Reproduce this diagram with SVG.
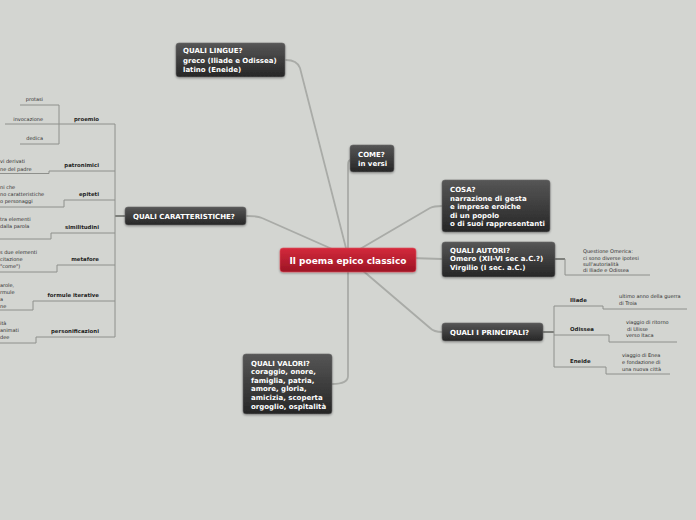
<svg xmlns="http://www.w3.org/2000/svg" width="696" height="520" viewBox="0 0 696 520">
<defs>
<linearGradient id="gDark" x1="0" y1="0" x2="0" y2="1">
<stop offset="0" stop-color="#565656"/>
<stop offset="1" stop-color="#262626"/>
</linearGradient>
<linearGradient id="gRed" x1="0" y1="0" x2="0" y2="1">
<stop offset="0" stop-color="#d42a3c"/>
<stop offset="1" stop-color="#9c1424"/>
</linearGradient>
<filter id="sh" x="-20%" y="-20%" width="140%" height="160%">
<feDropShadow dx="0" dy="1" stdDeviation="1" flood-color="#000" flood-opacity="0.35"/>
</filter>
</defs>
<style>
.bg{fill:#d3d5d1}
.nd{fill:url(#gDark);stroke:#6a6a6a;stroke-width:0.6;filter:url(#sh)}
.ct{fill:url(#gRed);stroke:#e05060;stroke-width:0.6;filter:url(#sh)}
.nt{font-family:"DejaVu Sans",Verdana,sans-serif;font-weight:bold;font-size:7px;fill:#ffffff}
.ctt{font-family:"DejaVu Sans",Verdana,sans-serif;font-weight:bold;font-size:9px;fill:#ffffff}
.main{fill:none;stroke:#a9aba7;stroke-width:1.8;stroke-linecap:round}
.sub{fill:none;stroke:#8e908c;stroke-width:1}
.subd{fill:none;stroke:#5a5c58;stroke-width:1.4}
.lb{font-family:"DejaVu Sans",Verdana,sans-serif;font-weight:bold;font-size:5.4px;fill:#1e1e1e}
.lf{font-family:"DejaVu Sans",Verdana,sans-serif;font-size:5px;fill:#2e2e2e}
</style>
<rect class="bg" x="0" y="0" width="696" height="520"/>

<g id="connectors">
<path class="main" d="M348,256 L300,68 Q297,60 286,60"/>
<path class="main" d="M348,256 L348,165 Q348,160 351,160"/>
<path class="main" d="M348,256 L430,208 Q434,206 442,206"/>
<path class="main" d="M348,256 L442,259"/>
<path class="main" d="M348,258 L430,328 Q434,332 442,332"/>
<path class="main" d="M348,258 L348,376 Q348,384 332,384"/>
<path class="main" d="M348,256 L262,218 Q258,216 247,216"/>
<!-- left subtree -->
<path class="subd" d="M125,216 L115,216"/>
<path class="sub" d="M115,124 L115,337"/>
<path class="sub" d="M115,124 L59,124"/>
<path class="sub" d="M59,105 L59,144"/>
<path class="sub" d="M59,105 L20,105"/>
<path class="sub" d="M59,124 L5,124"/>
<path class="sub" d="M59,144 L20,144"/>
<path class="sub" d="M115,171 L49,171 L49,173.5 L0,173.5"/>
<path class="sub" d="M115,200 L64,200 L64,207 L0,207"/>
<path class="sub" d="M115,233 L51,233 L51,239 L0,239"/>
<path class="sub" d="M115,265 L57,265 L57,272 L0,272"/>
<path class="sub" d="M115,301 L33,301 L33,310 L0,310"/>
<path class="sub" d="M115,337 L36,337 L36,343 L0,343"/>
<!-- right subtrees -->
<path class="subd" d="M555,259 L565,259"/>
<path class="sub" d="M565,259 L565,275 L650,275"/>
<path class="subd" d="M543,332 L554,332"/>
<path class="sub" d="M554,306 L554,367"/>
<path class="sub" d="M554,306 L603,306 L603,309 L687,309"/>
<path class="sub" d="M554,335 L609,335 L609,342 L677,342"/>
<path class="sub" d="M554,367 L606,367 L606,374 L670,374"/>
</g>

<g id="center">
<rect class="ct" x="280" y="248" width="136" height="24" rx="3"/>
<text class="ctt" x="348" y="264" text-anchor="middle">Il poema epico classico</text>
</g>

<g id="lingue">
<rect class="nd" x="176" y="43" width="109" height="34" rx="3"/>
<text class="nt" x="183" y="53">QUALI LINGUE?</text>
<text class="nt" x="183" y="62.5">greco (Iliade e Odissea)</text>
<text class="nt" x="183" y="72">latino (Eneide)</text>
</g>

<g id="come">
<rect class="nd" x="350" y="145" width="44" height="27" rx="3"/>
<text class="nt" x="358" y="156.5">COME?</text>
<text class="nt" x="358" y="165.5">in versi</text>
</g>

<g id="cosa">
<rect class="nd" x="442" y="180" width="108" height="52" rx="3"/>
<text class="nt" x="450" y="192">COSA?</text>
<text class="nt" x="450" y="200.5">narrazione di gesta</text>
<text class="nt" x="450" y="209">e imprese eroiche</text>
<text class="nt" x="450" y="217.5">di un popolo</text>
<text class="nt" x="450" y="226">o di suoi rappresentanti</text>
</g>

<g id="autori">
<rect class="nd" x="442" y="242" width="113" height="35" rx="3"/>
<text class="nt" x="450" y="252.5">QUALI AUTORI?</text>
<text class="nt" x="450" y="261">Omero (XII-VI sec a.C.?)</text>
<text class="nt" x="450" y="269.5">Virgilio (I sec. a.C.)</text>
</g>

<g id="principali">
<rect class="nd" x="442" y="323" width="101" height="18" rx="3"/>
<text class="nt" x="450" y="334.5">QUALI I PRINCIPALI?</text>
</g>

<g id="valori">
<rect class="nd" x="243" y="354" width="89" height="60" rx="3"/>
<text class="nt" x="251" y="365.5">QUALI VALORI?</text>
<text class="nt" x="251" y="374">coraggio, onore,</text>
<text class="nt" x="251" y="382.5">famiglia, patria,</text>
<text class="nt" x="251" y="391">amore, gloria,</text>
<text class="nt" x="251" y="399.5">amicizia, scoperta</text>
<text class="nt" x="251" y="408.5">orgoglio, ospitalità</text>
</g>

<g id="caratteristiche">
<rect class="nd" x="125" y="207" width="121" height="18" rx="3"/>
<text class="nt" x="133" y="218.5">QUALI CARATTERISTICHE?</text>
</g>

<g id="proemio">
<text class="lb" x="99" y="121" text-anchor="end">proemio</text>
<text class="lf" x="43" y="101" text-anchor="end">protasi</text>
<text class="lf" x="43" y="121" text-anchor="end">invocazione</text>
<text class="lf" x="43" y="140" text-anchor="end">dedica</text>
</g>
<g id="patronimici">
<text class="lb" x="99" y="167" text-anchor="end">patronimici</text>
<text class="lf" x="0" y="163">vi derivati</text>
<text class="lf" x="0" y="171">ne del padre</text>
</g>
<g id="epiteti">
<text class="lb" x="99" y="196" text-anchor="end">epiteti</text>
<text class="lf" x="0" y="189">ni che</text>
<text class="lf" x="0" y="196">no caratteristiche</text>
<text class="lf" x="0" y="203">o personaggi</text>
</g>
<g id="similitudini">
<text class="lb" x="99" y="229" text-anchor="end">similitudini</text>
<text class="lf" x="0" y="221">tra elementi</text>
<text class="lf" x="0" y="228">dalla parola</text>
</g>
<g id="metafore">
<text class="lb" x="99" y="261" text-anchor="end">metafore</text>
<text class="lf" x="0" y="254">s due elementi</text>
<text class="lf" x="0" y="261">citazione</text>
<text class="lf" x="0" y="268">"come")</text>
</g>
<g id="formule">
<text class="lb" x="99" y="297" text-anchor="end">formule iterative</text>
<text class="lf" x="0" y="287">arole,</text>
<text class="lf" x="0" y="294">rmule</text>
<text class="lf" x="0" y="301">a</text>
<text class="lf" x="0" y="308">ne</text>
</g>
<g id="personificazioni">
<text class="lb" x="99" y="333" text-anchor="end">personificazioni</text>
<text class="lf" x="0" y="325">ità</text>
<text class="lf" x="0" y="332">animati</text>
<text class="lf" x="0" y="339">dee</text>
</g>

<g id="questione">
<text class="lf" x="583" y="253">Questione Omerica:</text>
<text class="lf" x="583" y="260">ci sono diverse ipotesi</text>
<text class="lf" x="583" y="266">sull'autorialità</text>
<text class="lf" x="583" y="272"> di Iliade e Odissea</text>
</g>
<g id="iliade">
<text class="lb" x="570" y="302">Iliade</text>
<text class="lf" x="619" y="298">ultimo anno della guerra</text>
<text class="lf" x="619" y="305">di Troia</text>
</g>
<g id="odissea">
<text class="lb" x="570" y="331">Odissea</text>
<text class="lf" x="626" y="324">viaggio di ritorno</text>
<text class="lf" x="627" y="331">di Ulisse</text>
<text class="lf" x="626" y="337">verso Itaca</text>
</g>
<g id="eneide">
<text class="lb" x="570" y="363">Eneide</text>
<text class="lf" x="622" y="357">viaggio di Enea</text>
<text class="lf" x="622" y="364">e fondazione di</text>
<text class="lf" x="622" y="371">una nuova città</text>
</g>
</svg>
